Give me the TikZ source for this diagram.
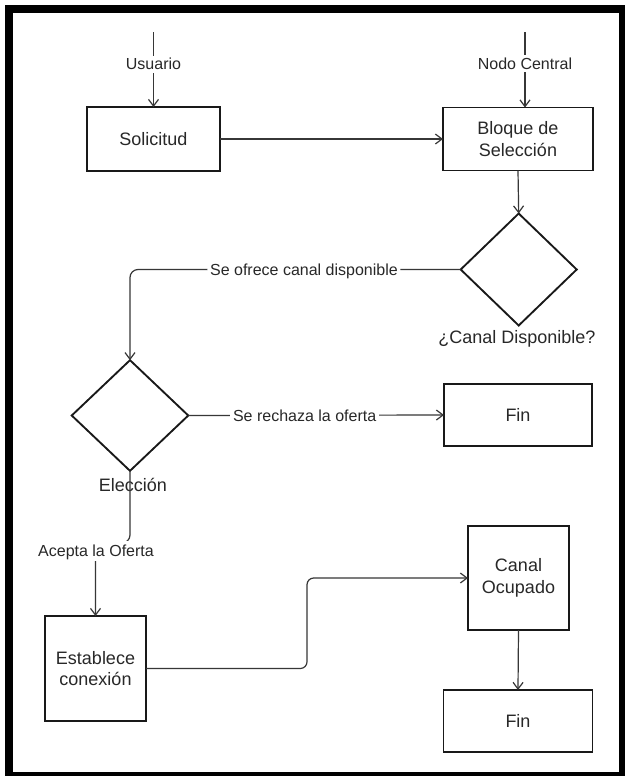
\documentclass[tikz,border=0pt]{standalone}
\usepackage{fontspec}
\setmainfont{Liberation Sans}
\usetikzlibrary{shapes.geometric,arrows.meta,calc}
\definecolor{txt}{RGB}{40,40,40}
\definecolor{ln}{RGB}{25,25,25}
\definecolor{edg}{RGB}{55,55,55}
\begin{document}
\begin{tikzpicture}[x=0.75pt,y=-0.75pt,
  box/.style={draw=ln, line width=1.4pt, rectangle, inner sep=0pt, outer sep=0pt,
    text=txt, font=\fontsize{13.5}{16}\selectfont, align=center},
  dia/.style={draw=ln, line width=1.4pt, diamond, inner sep=0pt, outer sep=0pt},
  dlabel/.style={text=txt, font=\fontsize{13.5}{16}\selectfont, inner sep=0pt, anchor=base},
  elabel/.style={text=txt, font=\fontsize{12}{14}\selectfont, fill=white,
    inner sep=2pt, text height=8.6pt, text depth=0pt},
  conn/.style={draw=edg, line width=0.9pt, -{Straight Barb[length=5pt,width=7.5pt]}},
]
\useasboundingbox (0,0) rectangle (625,776);
\fill[white] (0,0) rectangle (625,776);
\draw[line width=6pt, black] (9,9) rectangle (623,776);

% nodes
\node[box, minimum width=99.75pt, minimum height=48pt] (sol) at (153.5,139) {Solicitud};
\node[box, minimum width=112.5pt, minimum height=47.25pt] (blo) at (518,139) {Bloque de\\Selección};
\node[dia, minimum width=87pt, minimum height=84pt] (d1) at (518.7,269.5) {};
\node[dlabel] (d1l) at (517,343.3) {¿Canal Disponible?};
\node[dia, minimum width=87.4pt, minimum height=83pt] (d2) at (130,415.5) {};
\node[dlabel] (d2l) at (133,491.7) {Elección};
\node[box, minimum width=111pt, minimum height=46.5pt] (fin1) at (518,415) {Fin};
\node[box, minimum width=75.75pt, minimum height=78.75pt] (est) at (95.5,668.5) {Establece\\conexión};
\node[box, minimum width=75.75pt, minimum height=78pt] (can) at (518.5,578) {Canal\\Ocupado};
\node[box, minimum width=111.75pt, minimum height=46.5pt] (fin2) at (518,721) {Fin};

\coordinate (u0) at (153.5,32);
\coordinate (nc) at (525,32);
\coordinate (k1) at (0,543);

% connectors
\draw[conn] (u0) -- node[elabel, pos=0.43] (lusu) {Usuario} (u0 |- sol.north);
\draw[conn] (nc) -- node[elabel, pos=0.42] (lnc) {Nodo Central} (nc |- blo.north);
\draw[conn] (sol.east) -- (blo.west);
\draw[conn] (blo.south) -- (d1.north);
\draw[conn, rounded corners=6pt] (d1.west) -| node[elabel, pos=0.237] (lofr) {Se ofrece canal disponible} (d2.north);
\draw[conn] (d2.east) -- node[elabel, pos=0.455] (lrech) {Se rechaza la oferta} (fin1.west);
\draw[conn, rounded corners=6pt] (d2.south) -- (d2.south |- k1) -| (est.north);
\node[elabel, inner sep=3pt] (lacep) at (96,551) {Acepta la Oferta};
\draw[conn, rounded corners=5pt] (est.east) -| ($(est.east)!0.5!(can.west)$) |- (can.west);
\draw[conn] (can.south) -- (fin2.north);
\end{tikzpicture}
\end{document}
